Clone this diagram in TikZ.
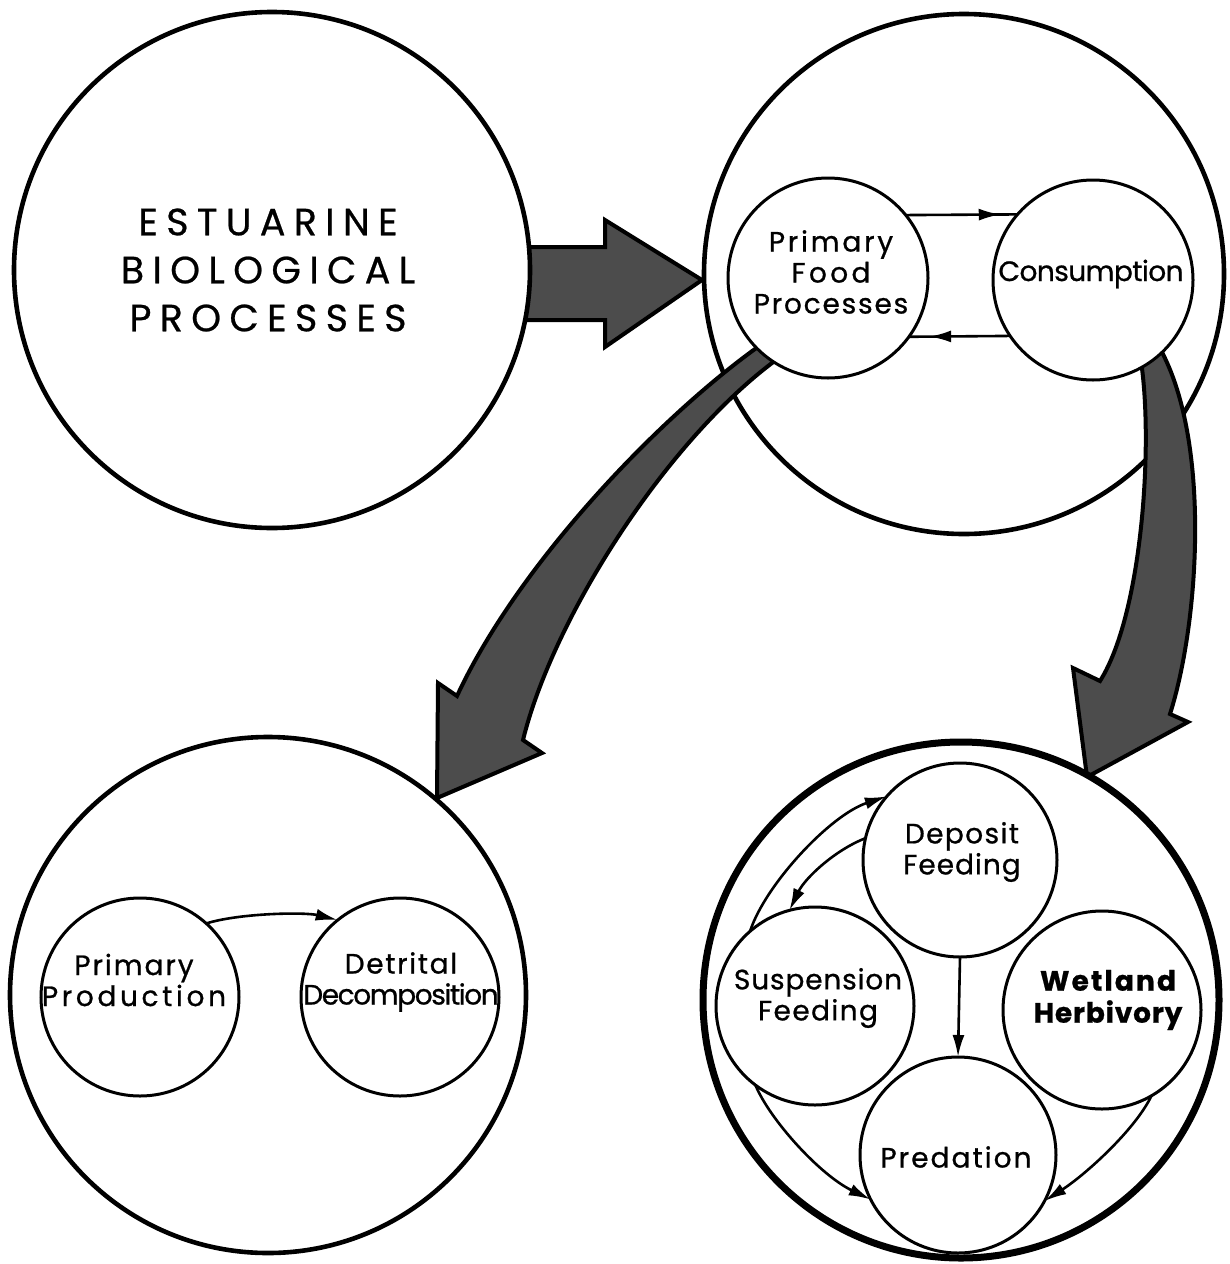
\documentclass[tikz,border=0pt]{standalone}
\usepackage{fontspec}
\setmainfont{Poppins}
\newfontfamily\titlefont[LetterSpace=22,FakeBold=0.6]{Poppins}
\newfontfamily\labfont[FakeBold=0.8]{Poppins}
\newcommand{\lsp}[2]{{\addfontfeature{LetterSpace=#1}#2}}
\usetikzlibrary{arrows.meta,decorations.markings}
\begin{document}
\begin{tikzpicture}[x=1pt,y=-1pt,
  bigc/.style={circle,draw,line width=4.6pt,fill=white,minimum size=#1,inner sep=0pt,outer sep=0pt},
  subc/.style={circle,draw,line width=3pt,fill=white,minimum size=#1,inner sep=0pt,outer sep=0pt},
  lab/.style={font=\labfont\fontsize{28}{31}\selectfont,align=center,inner sep=0pt},
  ttl/.style={font=\titlefont\fontsize{38}{48}\selectfont,align=center,inner sep=0pt},
  flow/.style={draw=black,line width=4pt,fill=black!70,line join=miter},
  link/.style={line width=2.6pt},
  tipat/.style={postaction={decorate},decoration={markings,mark=at position #1 with {\arrow{Latex[length=22pt,width=12pt]}}}},
  endtip/.style={-{Latex[length=22pt,width=12pt]}}
]
\useasboundingbox (0,0) rectangle (1230,1264);
\fill[white] (0,0) rectangle (1230,1264);

% upper right circle first (arrows lie on it)
\node[bigc=520pt] (c2) at (964,274) {};

% broad flow arrows
\draw[flow] (520,247) -- (605,247) -- (605,220) -- (702,280) -- (605,347) -- (605,320) -- (520,320) -- cycle;
\draw[flow] (775,335) .. controls (670,405) and (520,560) .. (457,696) -- (438,683) -- (437,798)
   -- (542,753) -- (523,740) .. controls (555,610) and (680,420) .. (795,347) -- cycle;
\draw[flow] (1138,345) .. controls (1155,420) and (1145,610) .. (1100,681) -- (1073,668) -- (1087,777)
   -- (1188,722) -- (1170,714) .. controls (1200,620) and (1212,430) .. (1155,340) -- cycle;

% main circles
\node[bigc=516pt] (c1) at (272,270) {};
\node[bigc=516pt] (c3) at (268,995) {};
\node[bigc=516pt,line width=7pt] (c4) at (961,1000) {};

% inner circles
\node[subc=200pt] (pfp) at (828,278) {};
\node[subc=200pt] (cons) at (1093,280) {};
\node[subc=198pt] (pp) at (140,997) {};
\node[subc=198pt] (dd) at (400,997) {};
\node[subc=194pt] (dep) at (960,860) {};
\node[subc=198pt] (susp) at (815,1006) {};
\node[subc=198pt] (wet) at (1102,1010) {};
\node[subc=196pt] (pred) at (958,1155) {};

% connectors
\draw[link,tipat=0.85] (pfp.39) -- (cons.139.5);
\draw[link,tipat=0.8] (cons.214.7) -- (pfp.324);
\draw[link,endtip] (pp.48) .. controls (240,913) and (305,912) .. (dd.129);
\draw[link,endtip] (susp.131) .. controls (765,885) and (830,815) .. (dep.139);
\draw[link,endtip] (dep.167) .. controls (835,850) and (805,878) .. (susp.105);
\draw[link,endtip] (dep.south) -- (pred.north);
\draw[link,endtip] (susp.233) .. controls (770,1120) and (820,1175) .. (pred.207);
\draw[link,endtip] (wet.300) .. controls (1135,1130) and (1085,1175) .. (pred.332);

% texts
\node[ttl] (t1) at (268,270) {ESTUARINE\\BIOLOGICAL\\PROCESSES};
\node[lab] (tpfp) at (831,272) {\lsp{10}{Primary}\\\lsp{12}{Food}\\\lsp{6.4}{Processes}};
\node[lab] (tcons) at (1091,274) {\lsp{-2}{Consumption}};
\node[lab] (tpp) at (134,980) {\lsp{7}{Primary}\\\lsp{13}{Production}};
\node[lab] (tdd) at (401,982) {\lsp{6}{Detrital}\\\lsp{-5}{Decomposition}};
\node[lab] (tdep) at (962,852) {\lsp{5}{Deposit}\\\lsp{3.6}{Feeding}};
\node[lab] (tsusp) at (818,998) {\lsp{3}{Suspension}\\\lsp{5}{Feeding}};
\node[lab,font=\labfont\bfseries\fontsize{28}{32}\selectfont] (twet) at (1108,1000) {\lsp{7.6}{Wetland}\\\lsp{3}{Herbivory}};
\node[lab] (tpred) at (956,1157) {\lsp{7.3}{Predation}};
\end{tikzpicture}
\end{document}
